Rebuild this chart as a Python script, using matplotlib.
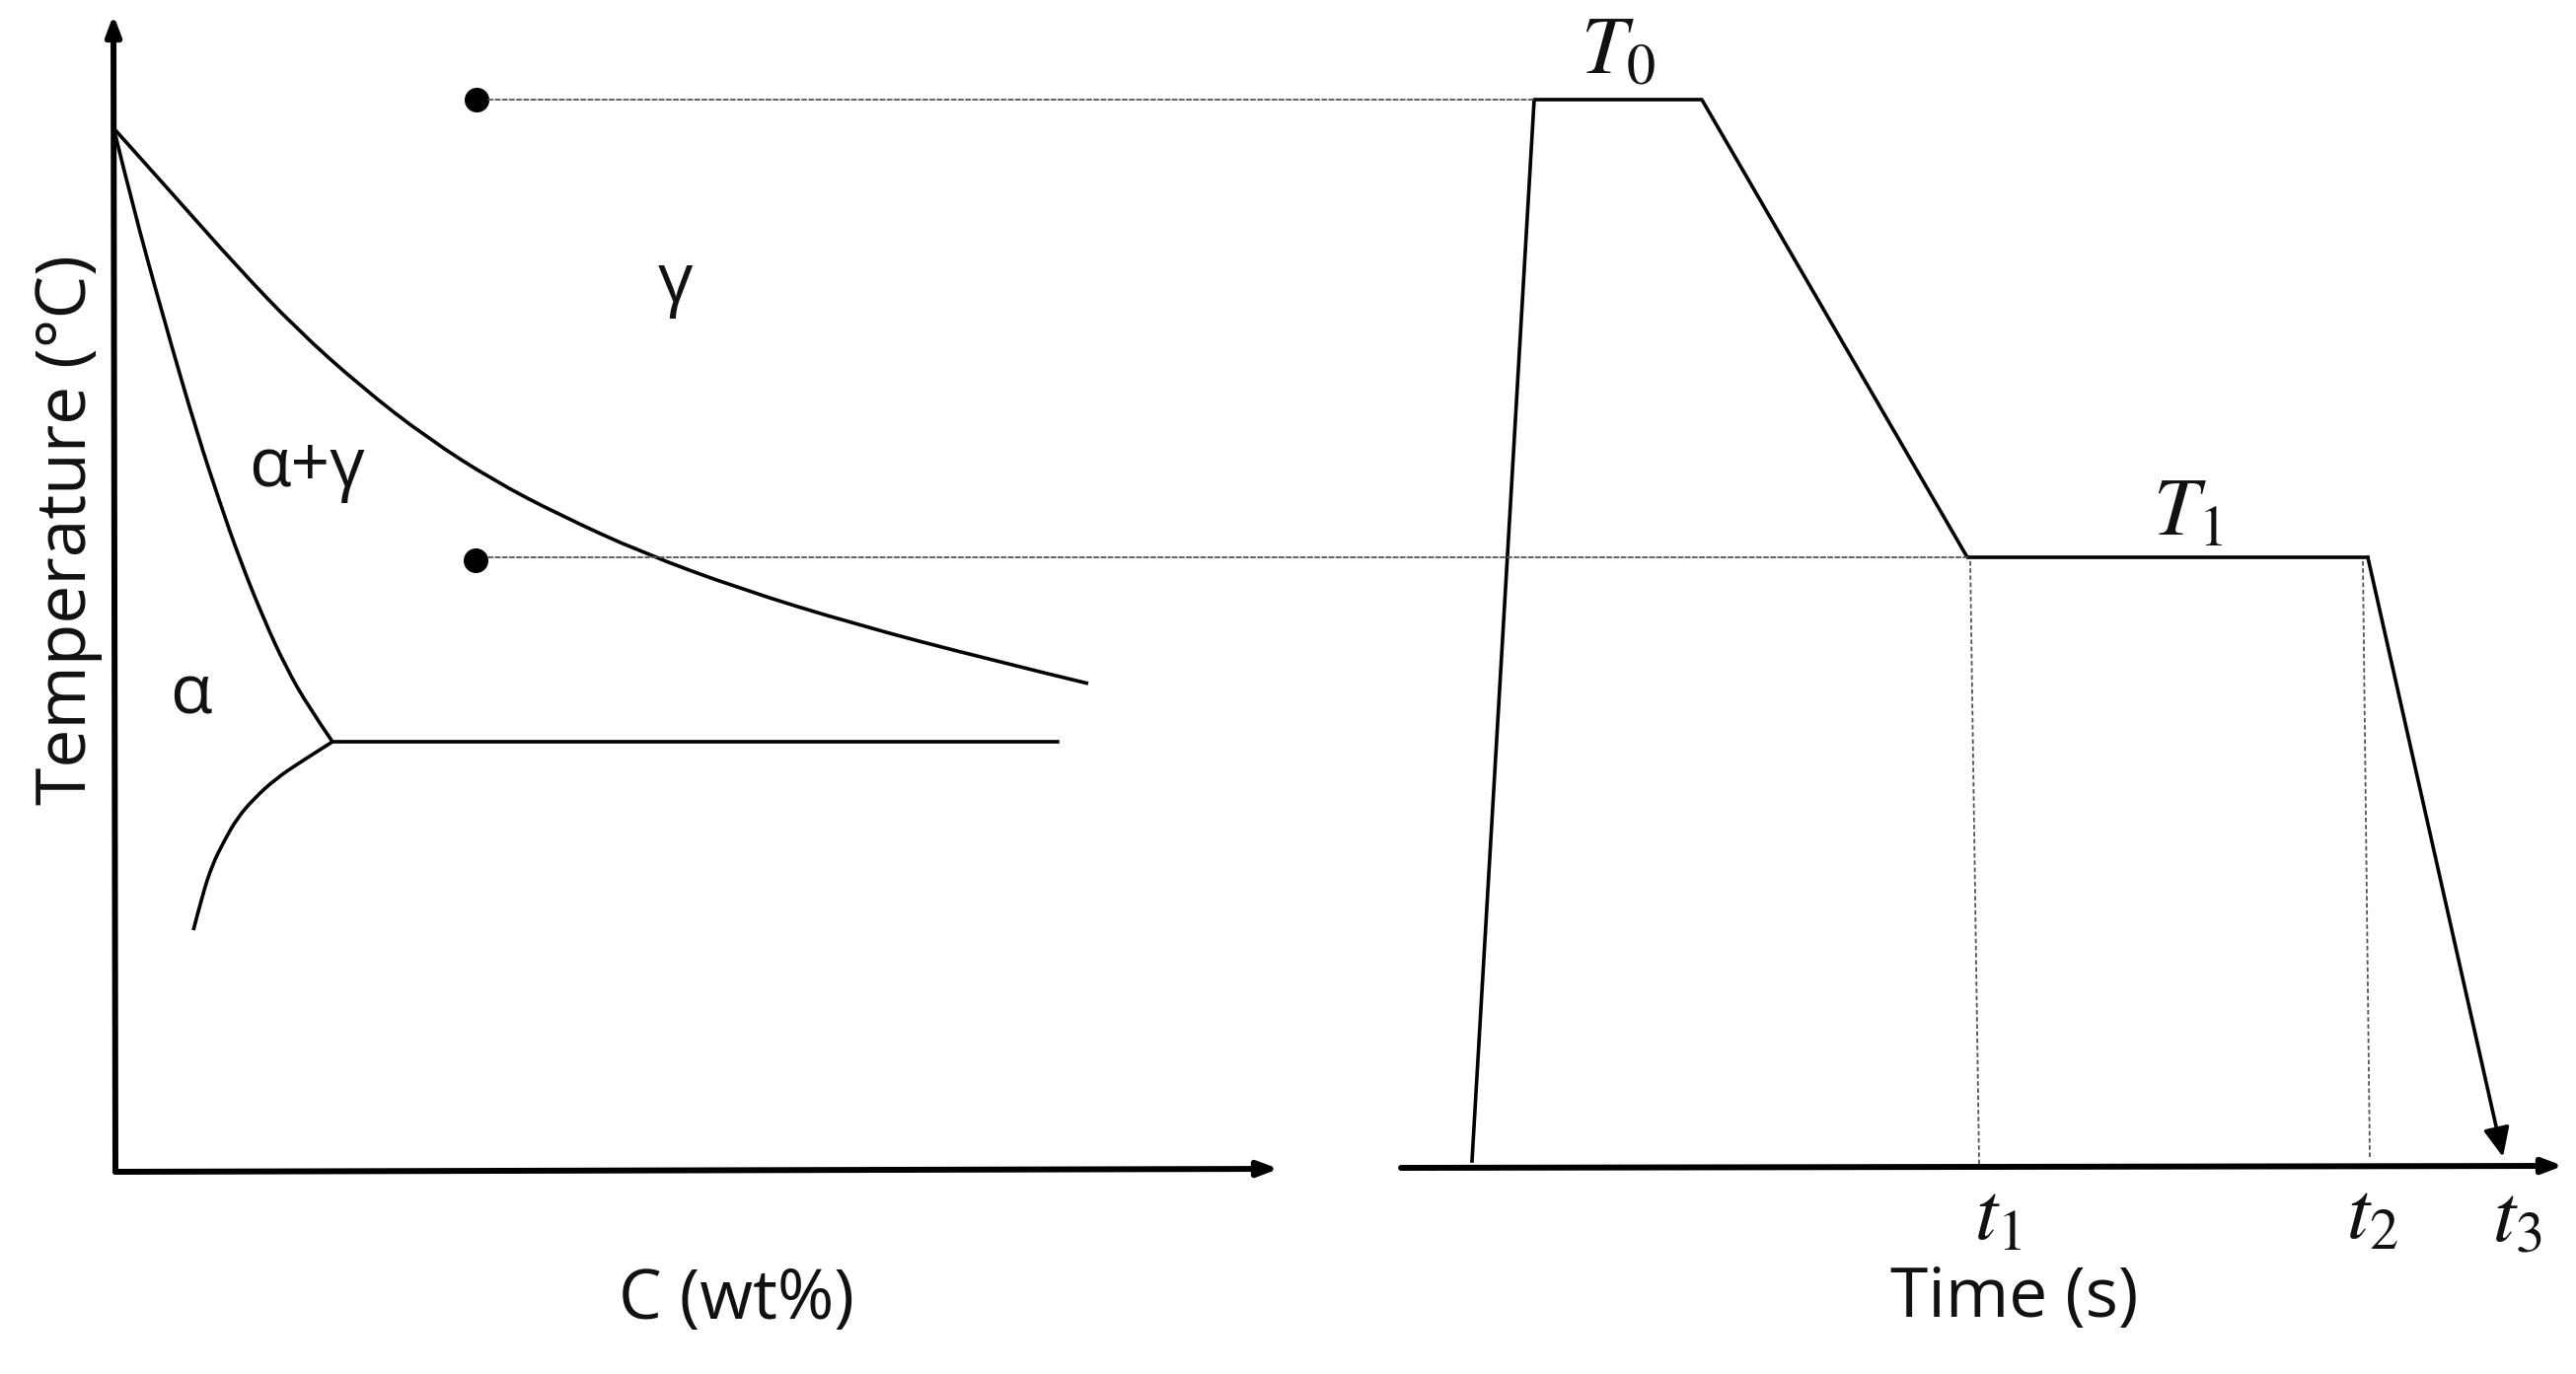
"""Phase diagram (left) with the heat treatment schedule (right)."""

import matplotlib
matplotlib.use("Agg")
import matplotlib.pyplot as plt
from matplotlib.patches import ConnectionPatch, PathPatch
from matplotlib.path import Path

W, H = 2611, 1393

# phase diagram, C and T in arbitrary units (the picture has no scale)
gamma_c = [0, 60, 123, 183, 250, 316, 383, 450, 533, 633, 750, 883, 986]
gamma_t = [1056, 989, 918, 855, 795, 744, 701, 666, 628, 591, 555, 520, 495]
alpha_c = [0, 16, 50, 83, 106, 126, 150, 173, 196, 220]
alpha_t = [1051, 985, 861, 748, 678, 621, 561, 511, 471, 436]
eutectoid_c = [220, 955]
eutectoid_t = [436, 436]
lower_c = [220, 190, 163, 140, 123, 110, 98, 88, 79]
lower_t = [436, 417, 399, 378, 358, 335, 311, 280, 245]
dot_c = [366, 365]
dot_t = [1087, 620]

# schedule
time_s = [72, 135, 305, 574, 980]
temp_c = [7, 1083, 1083, 619, 619]
quench_time = [980, 1117]
quench_temp = [619, 11]
t1_line = ([577, 586], [615, 4])
t2_line = ([975, 982], [615, 11])

plt.rcParams["font.family"] = ["Open Sans", "DejaVu Sans"]
plt.rcParams["mathtext.fontset"] = "stix"

fig = plt.figure(figsize=(W / 100, H / 100), dpi=100)
ax_l = fig.add_axes([117 / W, (H - 1188) / H, 1172 / W, 1173 / H])
ax_r = fig.add_axes([1420 / W, (H - 1184) / H, 1173 / W, 1170 / H])
ax_l.set(xlim=(0, 1172), ylim=(0, 1173))
ax_r.set(xlim=(0, 1173), ylim=(0, 1170))
for ax in (ax_l, ax_r):
    ax.axis("off")


def axis_arrow(ax, start, end):
    ax.annotate("", xy=end, xytext=start, annotation_clip=False,
                arrowprops=dict(arrowstyle="-|>,head_length=1.2,head_width=0.45",
                                color="black", lw=4.3, shrinkA=0, shrinkB=0))


def smooth_curve(ax, xs, ys):
    """Draw the read points as a chain of quadratic Bezier pieces."""
    pts = list(zip(xs, ys))
    verts, codes = [pts[0]], [Path.MOVETO]
    for p, q in zip(pts[1:-2], pts[2:-1]):
        verts += [p, ((p[0] + q[0]) / 2, (p[1] + q[1]) / 2)]
        codes += [Path.CURVE3, Path.CURVE3]
    verts += [pts[-2], pts[-1]]
    codes += [Path.CURVE3, Path.CURVE3]
    ax.add_patch(PathPatch(Path(verts, codes), fc="none", ec="black", lw=2.6,
                           clip_on=False))


LINE = dict(color="black", lw=2.6, clip_on=False, solid_joinstyle="round")
axis_arrow(ax_l, (0, 0), (1179, 3))
axis_arrow(ax_l, (0, 0), (-2, 1173))
smooth_curve(ax_l, gamma_c, gamma_t)
smooth_curve(ax_l, alpha_c, alpha_t)
smooth_curve(ax_l, lower_c, lower_t)
ax_l.plot(eutectoid_c, eutectoid_t, **LINE)
ax_l.plot(dot_c, dot_t, "o", color="black", ms=17, clip_on=False)

axis_arrow(ax_r, (0, 0), (1178, 2))
ax_r.plot(time_s, temp_c, **LINE)
ax_r.annotate("", xy=(quench_time[1], quench_temp[1]),
              xytext=(quench_time[0], quench_temp[0]),
              arrowprops=dict(arrowstyle="-|>,head_length=1.8,head_width=0.8",
                              color="black", lw=2.6, shrinkA=0, shrinkB=0))

DOTTED = dict(color="#555555", lw=1.3, linestyle=(0, (2.5, 1.5)))
ax_r.plot(*t1_line, **DOTTED)
ax_r.plot(*t2_line, **DOTTED)
for c_start, t_left, t_right, t_end in [(378, 1087, 1083, 135), (378, 623, 619, 574)]:
    fig.add_artist(ConnectionPatch((c_start, t_left), (t_end, t_right),
                                   coordsA=ax_l.transData, coordsB=ax_r.transData,
                                   **DOTTED))

TEXT = dict(ha="center", va="center", fontsize=50, color="#111111")
ax_l.text(-48, 651, "Temperature (°C)", rotation=90, **TEXT)
ax_l.text(629, -131, "C (wt%)", **TEXT)
ax_l.text(567, 900, "γ", **TEXT)
ax_l.text(194, 713, "α+γ", **TEXT)
ax_l.text(76, 482, "α", **TEXT)

MATH = dict(ha="center", va="center", fontsize=60, color="#111111")
ax_r.text(622, -133, "Time (s)", **TEXT)
ax_r.text(220, 1131, "$T_0$", **MATH)
ax_r.text(798, 663, "$T_1$", **MATH)
ax_r.text(605, -51, "$t_1$", **MATH)
ax_r.text(984, -51, "$t_2$", **MATH)
ax_r.text(1131, -53, "$t_3$", **MATH)

fig.savefig("out.png", dpi=100)
